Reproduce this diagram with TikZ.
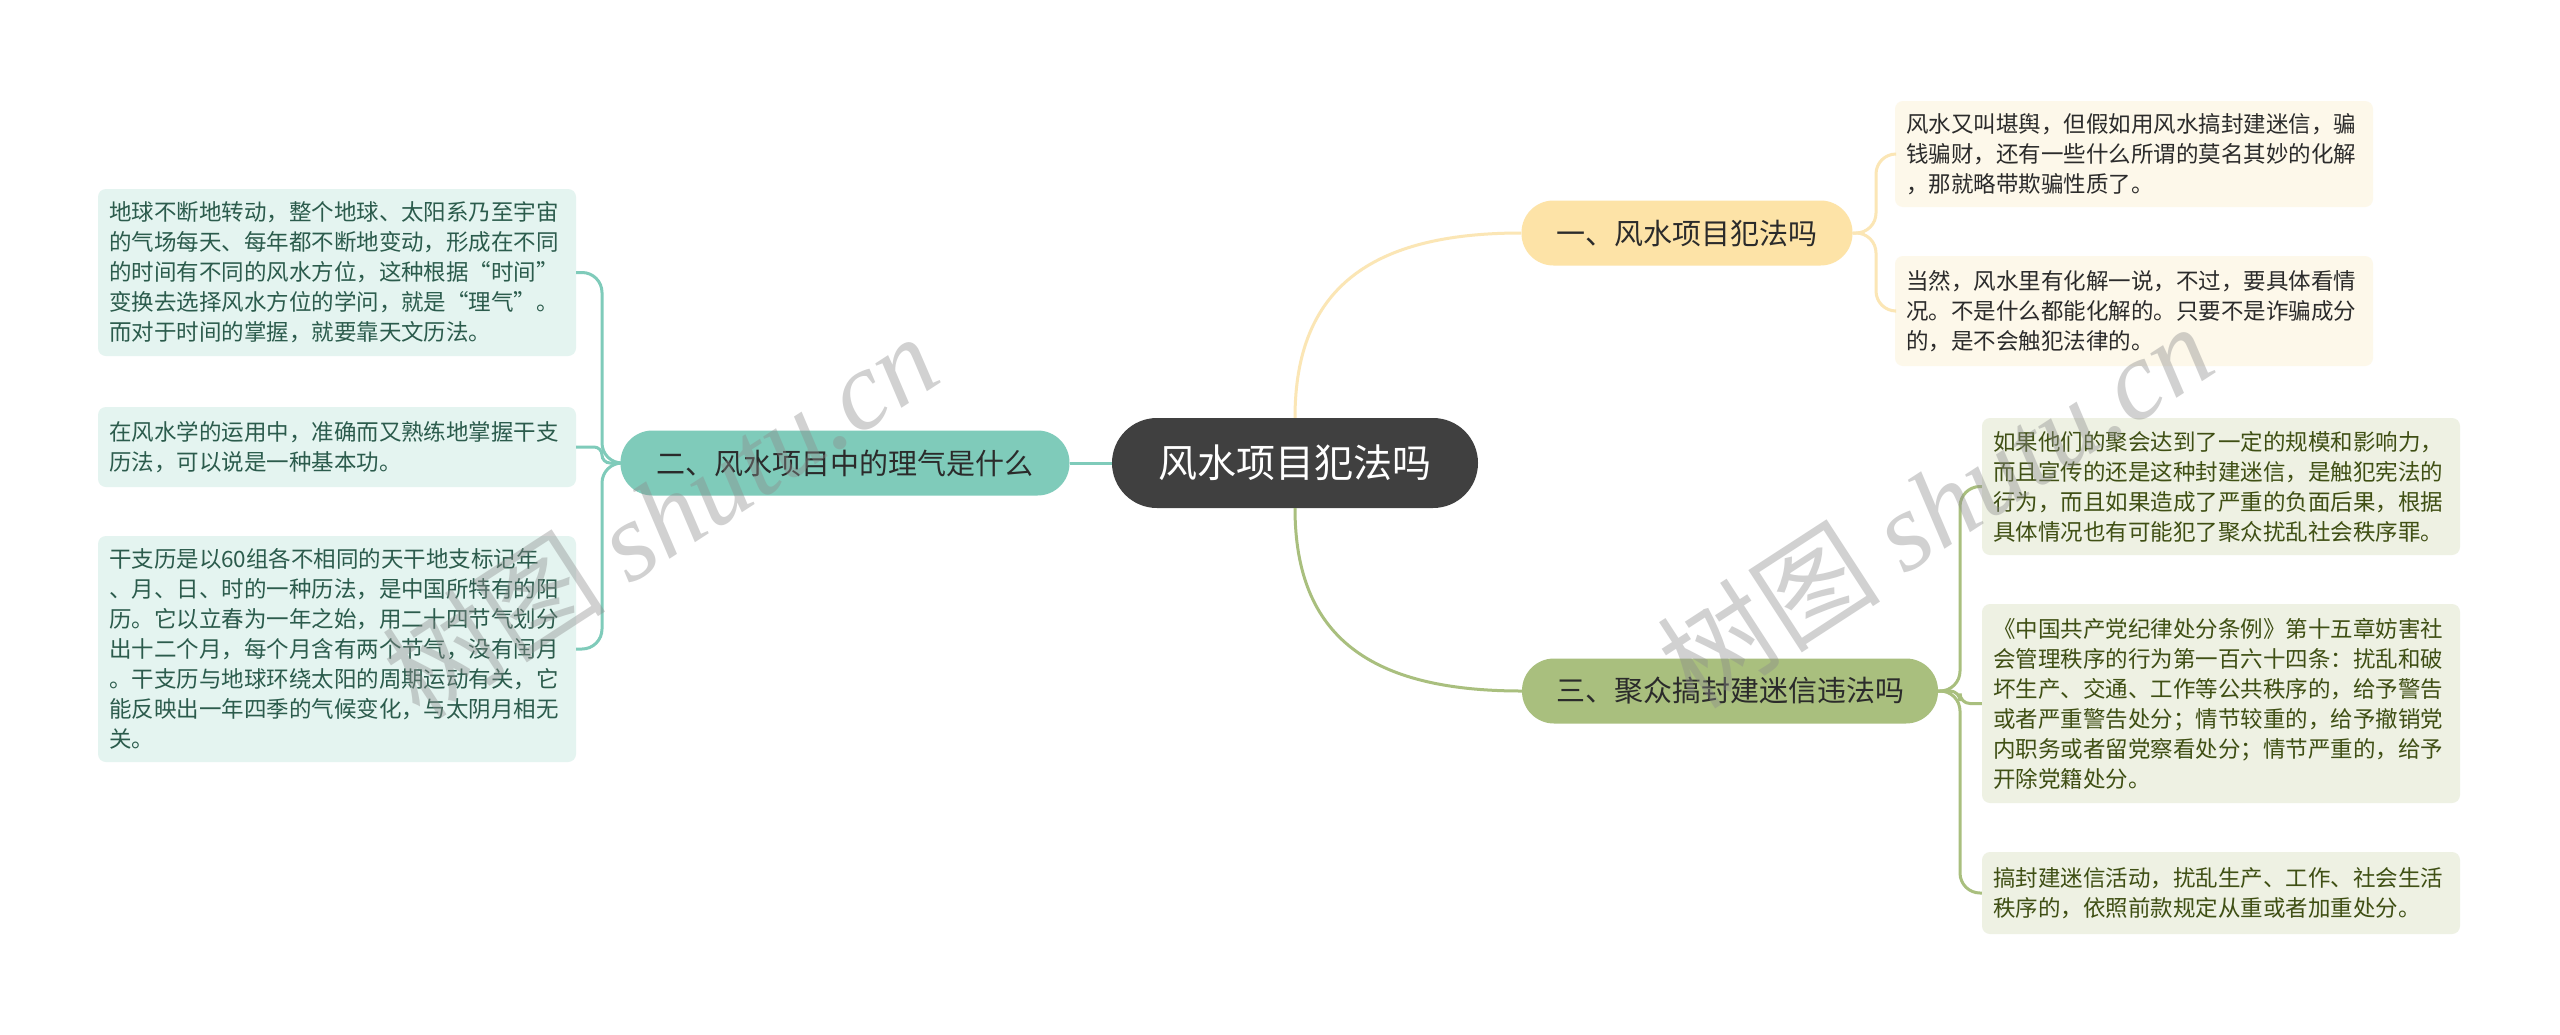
\documentclass[tikz,border=0pt]{standalone}
\usepackage{fontspec}
\setmainfont{Noto Sans CJK SC}
\newfontfamily\wmlatin{Liberation Serif}
\definecolor{centralfill}{HTML}{404040}
\definecolor{tealfill}{HTML}{7FCBBA}
\definecolor{tealleaf}{HTML}{E4F4F0}
\definecolor{tealtext}{HTML}{2B5B4C}
\definecolor{yellowfill}{HTML}{FDE3A7}
\definecolor{yellowline}{HTML}{FBE6B5}
\definecolor{yellowleaf}{HTML}{FDF8EA}
\definecolor{greenfill}{HTML}{A9BF7E}
\definecolor{greenleaf}{HTML}{EEF1E3}
\definecolor{greentext}{HTML}{3F4F14}
\definecolor{darktext}{HTML}{2B2B2B}
\tikzset{
  centralbox/.style={fill=centralfill, text=white, rounded corners=45pt,
    minimum width=366pt, minimum height=90pt, inner sep=0pt,
    font=\fontsize{39}{45}\selectfont},
  branchbox/.style={rounded corners=32pt, minimum height=65pt, inner sep=0pt,
    text=darktext, font=\fontsize{29}{34}\selectfont},
  leafbox/.style={rounded corners=8pt, text width=456pt, align=left,
    inner xsep=11pt, inner ysep=0pt, font=\fontsize{22.5}{30}\selectfont},
  tealleafbox/.style={leafbox, fill=tealleaf, text=tealtext},
  yellowleafbox/.style={leafbox, fill=yellowleaf, text=darktext},
  greenleafbox/.style={leafbox, fill=greenleaf, text=greentext},
  conn/.style={line width=3pt},
  watermark/.style={text=black!45, opacity=0.4, rotate=33,
    font=\fontsize{112}{112}\selectfont}
}
\begin{document}
\begin{tikzpicture}[x=1pt,y=-1pt]
\useasboundingbox[fill=white] (0,0) rectangle (2560,1034);

% central and branches
\node[centralbox] (c) at (1295,463) {风水项目犯法吗};
\node[branchbox, fill=tealfill, minimum width=449pt] (b2) at (845,463) {二、风水项目中的理气是什么};
\node[branchbox, fill=yellowfill, minimum width=331pt] (b1) at (1687,233) {一、风水项目犯法吗};
\node[branchbox, fill=greenfill, minimum width=416pt] (b3) at (1730,691) {三、聚众搞封建迷信违法吗};

% left leaves
\node[tealleafbox, minimum height=167pt] (l1) at (337,272.5) {地球不断地转动，整个地球、太阳系乃至宇宙\\的气场每天、每年都不断地变动，形成在不同\\的时间有不同的风水方位，这种根据“时间”\\变换去选择风水方位的学问，就是“理气”。\\而对于时间的掌握，就要靠天文历法。};
\node[tealleafbox, minimum height=80pt] (l2) at (337,447) {在风水学的运用中，准确而又熟练地掌握干支\\历法，可以说是一种基本功。};
\node[tealleafbox, minimum height=226pt] (l3) at (337,649) {干支历是以60组各不相同的天干地支标记年\\、月、日、时的一种历法，是中国所特有的阳\\历。它以立春为一年之始，用二十四节气划分\\出十二个月，每个月含有两个节气，没有闰月\\。干支历与地球环绕太阳的周期运动有关，它\\能反映出一年四季的气候变化，与太阴月相无\\关。};

% right leaves (branch 1)
\node[yellowleafbox, minimum height=106pt] (r1a) at (2134,154) {风水又叫堪舆，但假如用风水搞封建迷信，骗\\钱骗财，还有一些什么所谓的莫名其妙的化解\\，那就略带欺骗性质了。};
\node[yellowleafbox, minimum height=110pt] (r1b) at (2134,311) {当然，风水里有化解一说，不过，要具体看情\\况。不是什么都能化解的。只要不是诈骗成分\\的，是不会触犯法律的。};

% right leaves (branch 3)
\node[greenleafbox, minimum height=137pt] (r3a) at (2221,486.5) {如果他们的聚会达到了一定的规模和影响力，\\而且宣传的还是这种封建迷信，是触犯宪法的\\行为，而且如果造成了严重的负面后果，根据\\具体情况也有可能犯了聚众扰乱社会秩序罪。};
\node[greenleafbox, minimum height=199pt] (r3b) at (2221,703.5) {《中国共产党纪律处分条例》第十五章妨害社\\会管理秩序的行为第一百六十四条：扰乱和破\\坏生产、交通、工作等公共秩序的，给予警告\\或者严重警告处分；情节较重的，给予撤销党\\内职务或者留党察看处分；情节严重的，给予\\开除党籍处分。};
\node[greenleafbox, minimum height=82pt] (r3c) at (2221,893) {搞封建迷信活动，扰乱生产、工作、社会生活\\秩序的，依照前款规定从重或者加重处分。};

% connectors
\draw[conn, draw=tealfill] (c.west) -- (b2.east);
\draw[conn, draw=yellowline] (c.north) .. controls +(0,-130) and +(-150,0) .. (b1.west);
\draw[conn, draw=greenfill] (c.south) .. controls +(0,130) and +(-150,0) .. (b3.west);

\coordinate (s2) at (602,463);
\draw[conn, draw=tealfill, rounded corners=20pt] (b2.west) -- (s2) |- (l1.east);
\draw[conn, draw=tealfill, rounded corners=8pt] (b2.west) -- (s2) |- (l2.east);
\draw[conn, draw=tealfill, rounded corners=20pt] (b2.west) -- (s2) |- (l3.east);

\coordinate (s1) at (1876,233);
\draw[conn, draw=yellowline, rounded corners=20pt] (b1.east) -- (s1) |- (r1a.west);
\draw[conn, draw=yellowline, rounded corners=20pt] (b1.east) -- (s1) |- (r1b.west);

\coordinate (s3) at (1960,691);
\draw[conn, draw=greenfill, rounded corners=20pt] (b3.east) -- (s3) |- (r3a.west);
\draw[conn, draw=greenfill, rounded corners=10pt] (b3.east) -- (s3) |- (r3b.west);
\draw[conn, draw=greenfill, rounded corners=20pt] (b3.east) -- (s3) |- (r3c.west);

% watermarks
\node[watermark] (wm1) at (660,515) {树图 {\wmlatin\itshape shutu.cn}};
\node[watermark] (wm2) at (1935,505) {树图 {\wmlatin\itshape shutu.cn}};
\end{tikzpicture}
\end{document}
